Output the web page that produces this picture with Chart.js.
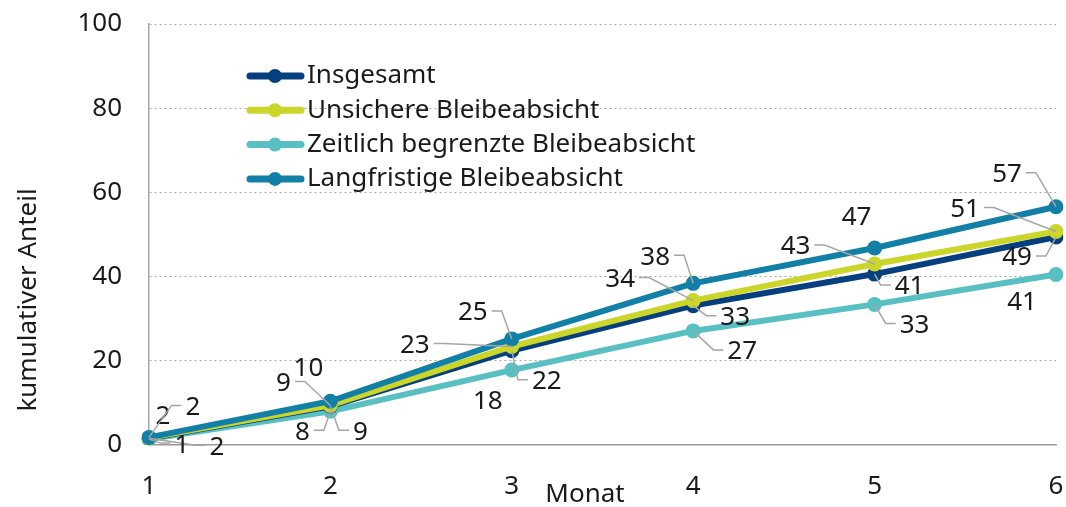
<!DOCTYPE html>
<html lang="de">
<head>
<meta charset="UTF-8">
<title>Kumulativer Anteil nach Bleibeabsicht</title>
<script src="https://cdn.jsdelivr.net/npm/chart.js@4"></script>
<style>
  html, body { margin: 0; padding: 0; background: #fff; }
</style>
</head>
<body>
<canvas id="chart" width="1066" height="507"></canvas>
<script>
// Daten
var monate = ['1', '2', '3', '4', '5', '6'];
var serien = ['Insgesamt', 'Unsichere Bleibeabsicht', 'Zeitlich begrenzte Bleibeabsicht', 'Langfristige Bleibeabsicht'];
var insgesamt = [1.6, 9.2, 22.4, 33.1, 40.6, 49.4];
var unsicher = [1.7, 9.4, 23.4, 34.3, 43.0, 50.7];
var zeitlich = [1.4, 8.0, 17.8, 27.1, 33.4, 40.5];
var langfristig = [1.8, 10.4, 25.2, 38.4, 46.8, 56.6];
var yTicks = [0, 20, 40, 60, 80, 100];

var farben = ['#063f7d', '#cbd52a', '#58c0c3', '#127fa6'];

// Position der Beschriftung relativ zum Punkt [dx, dy, Hinweislinie]
var labelPos = [
  [[68, 9, 1], [30, 26, 1], [35, 31, 1], [42, 12, 1], [35, 13, 1], [-39, 21, 1]],
  [[14, -21, 0], [-47, -22, 1], [-97, -1, 1], [-73, -21, 1], [-79, -17, 1], [-91, -22, 1]],
  [[33, 6, 1], [-28, 21, 1], [-24, 32, 0], [49, 21, 1], [40, 21, 1], [-34, 28, 0]],
  [[44, -30, 1], [-22, -33, 0], [-39, -26, 1], [-38, -26, 1], [-18, -30, 0], [-49, -32, 1]]
];

var FONT = "'Noto Sans', sans-serif";
var FS = 26;
var TEXT = '#1a1a1a';
Chart.defaults.font.family = FONT;
Chart.defaults.font.size = FS;
Chart.defaults.color = TEXT;

var werte = [insgesamt, unsicher, zeitlich, langfristig];
var reihenfolge = [3, 2, 4, 1]; // Zeichenebene: kleiner = oben

var datasets = werte.map(function (w, i) {
  return {
    label: serien[i],
    data: w,
    borderColor: farben[i],
    backgroundColor: farben[i],
    borderWidth: 6,
    pointRadius: 7.5,
    pointBorderWidth: 0,
    pointHoverRadius: 7.5,
    tension: 0,
    order: reihenfolge[i]
  };
});

// Beschriftungen, Hinweislinien, Legende und Achsentitel
var extras = {
  id: 'extras',
  afterDatasetsDraw: function (chart) {
    var ctx = chart.ctx;
    ctx.save();
    ctx.font = FS + 'px ' + FONT;
    ctx.textAlign = 'center';
    ctx.textBaseline = 'middle';
    werte.forEach(function (w, i) {
      var meta = chart.getDatasetMeta(i);
      w.forEach(function (v, j) {
        var pt = meta.data[j];
        var pos = labelPos[i][j];
        var lx = pt.x + pos[0], ly = pt.y + pos[1];
        var txt = String(Math.round(v));
        if (pos[2]) {
          var wd = ctx.measureText(txt).width;
          var side = lx > pt.x ? -1 : 1;
          var sx = lx + side * (wd / 2 + 4);
          var ex = sx + side * 10;
          ctx.beginPath();
          ctx.strokeStyle = '#a6a6a6';
          ctx.lineWidth = 1.5;
          ctx.moveTo(sx, ly - 2);
          ctx.lineTo(ex, ly - 2);
          ctx.lineTo(pt.x, pt.y);
          ctx.stroke();
        }
        ctx.fillStyle = TEXT;
        ctx.fillText(txt, lx, ly);
      });
    });
    ctx.restore();
  },
  afterDraw: function (chart) {
    var ctx = chart.ctx;
    ctx.save();
    // Legende
    ctx.font = FS + 'px ' + FONT;
    ctx.textBaseline = 'middle';
    ctx.textAlign = 'left';
    serien.forEach(function (s, i) {
      var y = 76 + i * 34.3;
      ctx.strokeStyle = farben[i];
      ctx.lineWidth = 7;
      ctx.lineCap = 'round';
      ctx.beginPath();
      ctx.moveTo(250, y);
      ctx.lineTo(301, y);
      ctx.stroke();
      ctx.fillStyle = farben[i];
      ctx.beginPath();
      ctx.arc(275, y, 7, 0, Math.PI * 2);
      ctx.fill();
      ctx.fillStyle = TEXT;
      ctx.fillText(s, 307, y);
    });
    // Achsentitel
    ctx.textAlign = 'center';
    ctx.fillText('Monat', 585, 495);
    ctx.translate(29, 300);
    ctx.rotate(-Math.PI / 2);
    ctx.fillText('kumulativer Anteil', 0, 0);
    ctx.restore();
  }
};

new Chart(document.getElementById('chart'), {
  type: 'line',
  data: { labels: monate, datasets: datasets },
  options: {
    responsive: false,
    animation: false,
    layout: { padding: { top: 24, right: 10, left: 0, bottom: 0 } },
    plugins: { legend: { display: false }, tooltip: { enabled: false } },
    scales: {
      x: {
        offset: false,
        grid: { display: false, drawTicks: false },
        border: { display: true, color: '#9a9a9a', width: 1.5 },
        ticks: { padding: 26, color: TEXT, maxRotation: 0 },
        afterFit: function (s) { s.height = 62; s.paddingLeft = 0; s.paddingRight = 0; }
      },
      y: {
        min: 0,
        max: 100,
        afterBuildTicks: function (s) { s.ticks = yTicks.map(function (v) { return { value: v }; }); },
        grid: {
          drawTicks: false,
          color: function (c) { return c.tick && c.tick.value === 0 ? 'rgba(0,0,0,0)' : '#a8a8a8'; },
          lineWidth: 1
        },
        border: { display: true, color: '#a8a8a8', width: 1.5, dash: [2, 3] },
        ticks: { padding: 27, color: TEXT },
        afterFit: function (s) { s.width = 149; s.paddingTop = 0; s.paddingBottom = 0; }
      }
    }
  },
  plugins: [extras]
});
</script>
</body>
</html>
